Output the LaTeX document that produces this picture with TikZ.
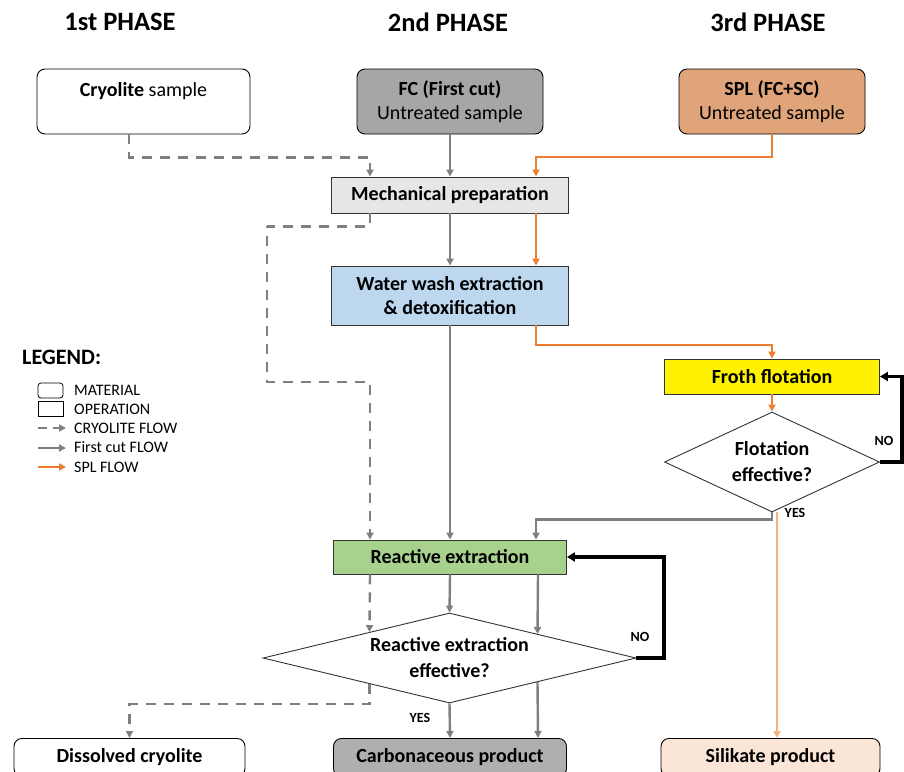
\documentclass[tikz,border=0pt]{standalone}
\usepackage{fontspec}
\setmainfont{Carlito}
\usetikzlibrary{shapes.geometric,arrows.meta}
\definecolor{lgray}{HTML}{7F7F7F}
\definecolor{fcfill}{HTML}{A6A6A6}
\definecolor{splfill}{HTML}{E0A47A}
\definecolor{mechfill}{HTML}{E7E6E6}
\definecolor{wwfill}{HTML}{BDD7EE}
\definecolor{rexfill}{HTML}{A9D18E}
\definecolor{carbfill}{HTML}{AFAFAF}
\definecolor{silfill}{HTML}{FBE5D6}
\definecolor{splor}{HTML}{ED7D31}
\definecolor{lightor}{HTML}{F4B183}
\tikzset{
  boxtxt/.style={font=\fontsize{20}{24}\selectfont, align=center, inner sep=0pt},
  mat/.style={boxtxt, draw=black, line width=0.9pt, rounded corners=8pt},
  opbox/.style={boxtxt, draw=black!80, line width=0.9pt, font=\fontsize{20}{24}\selectfont\bfseries},
  dia/.style={diamond, draw=black!80, line width=0.9pt, inner sep=-8pt, align=center, font=\fontsize{20}{26}\selectfont\bfseries},
  tipa/.style={-{Triangle[length=7pt,width=7pt]}},
  grayflow/.style={tipa, draw=lgray, line width=2.4pt},
  cryoflow/.style={tipa, draw=lgray, line width=2.4pt, dash pattern=on 10pt off 8pt},
  splflow/.style={tipa, draw=splor, line width=2pt},
  noflow/.style={-{Triangle[length=8pt,width=9pt]}, draw=black, line width=3.2pt},
  phase/.style={font=\fontsize{26.5}{30}\selectfont\bfseries},
  lbl/.style={font=\fontsize{14}{16}\selectfont\bfseries, inner sep=0pt},
  legtxt/.style={font=\fontsize{16}{18}\selectfont, anchor=west, inner sep=0pt}
}
\begin{document}
\begin{tikzpicture}[x=1pt,y=-1pt]
\useasboundingbox (0,0) rectangle (904,771);
\clip (0,0) rectangle (904,771);
% phases
\node[phase] (p1) at (120,22) {1st PHASE};
\node[phase] (p2) at (448,22) {2nd PHASE};
\node[phase] (p3) at (768,22) {3rd PHASE};
% top materials
\node[mat, minimum width=213pt, minimum height=65pt] (cry) at (143.5,101.5) {\textbf{Cryolite} sample\\\mbox{}};
\node[mat, fill=fcfill, minimum width=186pt, minimum height=65pt] (fc) at (450,101.5) {\textbf{FC (First cut)}\\Untreated sample};
\node[mat, fill=splfill, minimum width=186pt, minimum height=65pt] (spl) at (772,101.5) {\textbf{SPL (FC+SC)}\\Untreated sample};
% operations
\node[opbox, fill=mechfill, minimum width=237pt, minimum height=36pt] (mech) at (450,195) {Mechanical preparation};
\node[opbox, fill=wwfill, minimum width=237pt, minimum height=59pt] (ww) at (450,295.5) {Water wash extraction\\\& detoxification};
\node[opbox, fill=yellow, minimum width=215pt, minimum height=35pt] (froth) at (772,376.5) {Froth flotation};
\node[dia, aspect=2.15, minimum width=215pt, minimum height=100pt] (fdec) at (772,462) {Flotation\\effective?};
\node[opbox, fill=rexfill, minimum width=233pt, minimum height=34pt] (rex) at (450,557) {Reactive extraction};
\node[dia, aspect=4.1, minimum width=373pt, minimum height=90pt] (rdec) at (449.5,658) {Reactive extraction\\effective?};
% products
\node[mat, font=\fontsize{20}{24}\selectfont\bfseries, minimum width=231pt, minimum height=38pt, anchor=north] (dis) at (129.5,738) {Dissolved cryolite};
\node[mat, fill=carbfill, font=\fontsize{20}{24}\selectfont\bfseries, minimum width=233pt, minimum height=38pt, anchor=north] (carb) at (450,738) {Carbonaceous product};
\node[mat, fill=silfill, font=\fontsize{20}{24}\selectfont\bfseries, minimum width=219pt, minimum height=38pt, anchor=north] (sil) at (770.5,738) {Silikate product};
% bend coordinates
\coordinate (b1) at (267,226);
\coordinate (b2) at (267,382);
\coordinate (b3) at (370,382);
\coordinate (b4) at (902,462);
\coordinate (b5) at (664,658);
\coordinate (b6) at (129.5,704);
% connectors: phase 1
\draw[cryoflow] ([xshift=-14.5pt]cry.south) -- ++(0,23) -| ([xshift=-80pt]mech.north);
\draw[cryoflow] ([xshift=-80pt]mech.south) -- ++(0,13) -| (b1) -- (b2) -- (b3) -- ([xshift=-80pt]rex.north);
\draw[cryoflow] ([xshift=-80pt]rex.south) -- ([xshift=-80pt,yshift=26pt]rdec.center);
\draw[cryoflow] ([xshift=-80pt,yshift=-26pt]rdec.center) |- (b6) -- (dis.north);
% phase 2
\draw[grayflow] (fc.south) -- (mech.north);
\draw[grayflow] (mech.south) -- (ww.north);
\draw[grayflow] (ww.south) -- (rex.north);
\draw[grayflow] (rex.south) -- (rdec.north);
\draw[grayflow] ([xshift=88pt]rex.south) -- ([xshift=88pt,yshift=24pt]rdec.center);
\draw[grayflow] (rdec.south) -- (carb.north);
\draw[grayflow] ([xshift=88pt,yshift=-24pt]rdec.center) -- ([xshift=88pt]carb.north);
\draw[noflow] (rdec.east) -- (b5) |- (rex.east);
% phase 3
\draw[splflow] (spl.south) -- ++(0,23) -| ([xshift=86pt]mech.north);
\draw[splflow] ([xshift=86pt]mech.south) -- ([xshift=86pt]ww.north);
\draw[splflow] ([xshift=86pt]ww.south) -- ++(0,20) -| (froth.north);
\draw[splflow] (froth.south) -- (fdec.north);
\draw[noflow] (fdec.east) -- (b4) |- (froth.east);
\draw[grayflow] (fdec.south) -- ++(0,7) -| ([xshift=86pt]rex.north);
\draw[tipa, draw=lightor, line width=2pt] ([xshift=5pt]fdec.south) -- ([xshift=5pt]fdec.south |- sil.north);
% labels
\node[lbl] (no1) at (884,441) {NO};
\node[lbl] (yes1) at (795,513) {YES};
\node[lbl] (no2) at (640,637) {NO};
\node[lbl] (yes2) at (420,718) {YES};
% legend
\node[font=\fontsize{22}{26}\selectfont\bfseries, anchor=west, inner sep=0pt] (leg) at (22,357) {LEGEND:};
\draw[draw=black, line width=0.8pt, rounded corners=3pt] (38,383) rectangle (63,398);
\draw[draw=black, line width=0.8pt] (38,401) rectangle (63,416);
\coordinate (l1a) at (38,428); \coordinate (l1b) at (66,428);
\coordinate (l2a) at (38,448); \coordinate (l2b) at (66,448);
\coordinate (l3a) at (38,467); \coordinate (l3b) at (66,467);
\draw[cryoflow, dash pattern=on 9pt off 6pt] (l1a) -- (l1b);
\draw[grayflow] (l2a) -- (l2b);
\draw[splflow] (l3a) -- (l3b);
\node[legtxt] (t1) at (74,390) {MATERIAL};
\node[legtxt] (t2) at (74,409) {OPERATION};
\node[legtxt] (t3) at (74,428) {CRYOLITE FLOW};
\node[legtxt] (t4) at (74,447) {First cut FLOW};
\node[legtxt] (t5) at (74,467) {SPL FLOW};
\end{tikzpicture}
\end{document}
